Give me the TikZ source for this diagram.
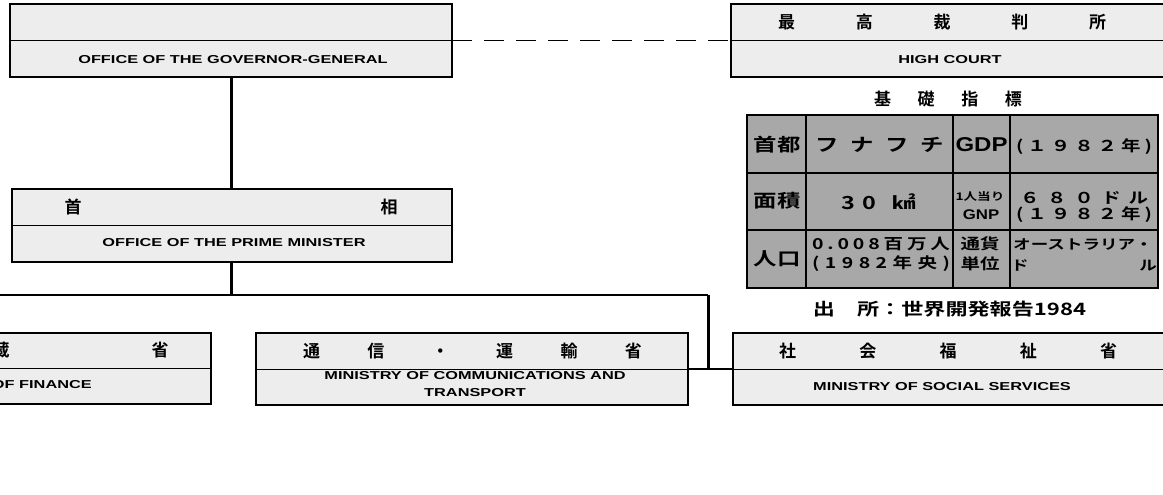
\documentclass[tikz,border=0pt]{standalone}
\usepackage{fontspec}
\setmainfont{Liberation Sans}
\newfontfamily\enf{Liberation Sans}[FakeStretch=1.42]
\newfontfamily\enw{Liberation Sans}[FakeStretch=1.2]
\newfontfamily\jpf{Noto Sans CJK JP}[BoldFont={Noto Sans CJK JP Bold}]
\newfontfamily\jpw{Noto Sans CJK JP}[FakeStretch=1.3,BoldFont={Noto Sans CJK JP Bold}]
\definecolor{boxfill}{gray}{0.93}
\definecolor{tabfill}{gray}{0.66}
\begin{document}
\begin{tikzpicture}[x=1pt,y=-1pt,
  orgbox/.style={draw, line width=2pt, fill=boxfill, inner sep=0pt, outer sep=0pt},
  divider/.style={line width=1pt},
  vline/.style={line width=3pt},
  hline/.style={line width=2pt},
  dashline/.style={line width=1.7pt, dash pattern=on 20pt off 12pt},
  tabline/.style={line width=2pt},
  en/.style={inner sep=0pt, font=\enf\bfseries\fontsize{11.5}{17}\selectfont},
  jt/.style={inner sep=0pt, font=\jpf\bfseries\fontsize{17}{20}\selectfont},
  jbig/.style={inner sep=0pt, font=\jpw\bfseries\fontsize{18}{20}\selectfont},
  jmid/.style={inner sep=0pt, font=\jpw\bfseries\fontsize{15}{18}\selectfont},
  jsmall/.style={inner sep=0pt, font=\jpw\bfseries\fontsize{13.5}{16}\selectfont},
  jtiny/.style={inner sep=0pt, font=\jpw\bfseries\fontsize{10.5}{12}\selectfont},
  lat/.style={inner sep=0pt, font=\enw\bfseries\fontsize{#1}{#1}\selectfont}
]
\useasboundingbox (0,0) rectangle (1163,495);
\clip (0,0) rectangle (1163,495);

% ---- boxes ----
\node[orgbox, minimum width=442pt, minimum height=73pt] (gg) at (231,40.5) {};
\node[orgbox, minimum width=444pt, minimum height=73pt] (hc) at (953,40.5) {};
\node[orgbox, minimum width=440pt, minimum height=73pt] (pm) at (232,225.5) {};
\node[orgbox, minimum width=432pt, minimum height=71pt] (fin) at (-5,368.5) {};
\node[orgbox, minimum width=432pt, minimum height=72pt] (com) at (472,369) {};
\node[orgbox, minimum width=442pt, minimum height=72pt] (soc) at (954,369) {};

\foreach \b in {gg,hc,pm,fin,com,soc}{\draw[divider] (\b.west) -- (\b.east);}

% ---- connectors ----
\coordinate (j1) at (231,295);
\coordinate (jl) at (-10,295);
\coordinate (jr) at (708,295);
\draw[dashline] (gg.east) -- (hc.west);
\draw[vline] (gg.south) -- (gg.south |- pm.north);
\draw[vline] (gg.south |- pm.south) -- (j1);
\draw[hline] (jl) -- (jr);
\draw[vline] (jr) -- (jr |- com.east);
\draw[hline] (com.east) -- (soc.west);

% ---- box texts ----
\node[en] (ggl) at (233,60) {OFFICE OF THE GOVERNOR-GENERAL};
\node[jt] (hct) at (942,22) {\makebox[328pt][s]{最\hfill 高\hfill 裁\hfill 判\hfill 所}};
\node[en] (hcl) at (950,60) {HIGH COURT};
\node[jt] (pm1) at (73,207) {首};
\node[jt] (pm2) at (389,207) {相};
\node[en] (pml) at (234,243) {OFFICE OF THE PRIME MINISTER};
\node[jt] (fin1) at (-159,350) {大};
\node[jt] (fin2) at (1,350) {蔵};
\node[jt] (fin3) at (160,350) {省};
\node[en, anchor=east] (finl) at (92,385) {MINISTRY OF FINANCE};
\node[jt] (comt) at (472.5,351) {\makebox[339pt][s]{通\hfill 信\hfill ・\hfill 運\hfill 輸\hfill 省}};
\node[en, align=center] (coml) at (475,384.5) {MINISTRY OF COMMUNICATIONS AND\\TRANSPORT};
\node[jt] (soct) at (948,351) {\makebox[338pt][s]{社\hfill 会\hfill 福\hfill 祉\hfill 省}};
\node[en] (socl) at (942,387) {MINISTRY OF SOCIAL SERVICES};

% ---- indicator table ----
\node[jt] (tabt) at (948,99) {\makebox[148pt][s]{基\hfill 礎\hfill 指\hfill 標}};
\fill[tabfill] (747,115) rectangle (1158,288);
\draw[tabline] (747,115) rectangle (1158,288);
\foreach \xx in {806,953,1010}{\draw[tabline] (\xx,115) -- (\xx,288);}
\foreach \yy in {173,230}{\draw[tabline] (747,\yy) -- (1158,\yy);}

\node[jbig] (c11) at (777,145) {首都};
\node[jbig] (c12) at (879.5,145) {\makebox[128pt][s]{フ\hfill ナ\hfill フ\hfill チ}};
\node[lat=20] (c13) at (981.5,145) {GDP};
\node[jmid] (c14) at (1084,147) {\makebox[136pt][s]{(\hfill １\hfill ９\hfill ８\hfill ２\hfill 年\hfill )}};

\node[jbig] (c21) at (777,201) {面積};
\node[jbig] (c22) at (878.5,202) {\makebox[75pt][s]{3\hfill 0\hfill\hfill ㎢}};
\node[jtiny] (c23a) at (980,197) {1人当り};
\node[lat=14] (c23b) at (981,215) {GNP};
\node[jmid] (c24a) at (1084,198) {\makebox[128pt][s]{６\hfill ８\hfill ０\hfill ド\hfill ル}};
\node[jmid] (c24b) at (1084,215) {\makebox[136pt][s]{(\hfill １\hfill ９\hfill ８\hfill ２\hfill 年\hfill )}};

\node[jbig] (c31) at (777,259) {人口};
\node[jmid] (c32a) at (881,243.5) {\makebox[138pt][s]{0\hfill .\hfill 0\hfill 0\hfill 8\hfill 百\hfill 万\hfill 人}};
\node[jmid] (c32b) at (881,264) {\makebox[138pt][s]{(\hfill 1\hfill 9\hfill 8\hfill 2\hfill 年\hfill 央\hfill )}};
\node[jmid] (c33a) at (980,244) {通貨};
\node[jmid] (c33b) at (980,264) {単位};
\node[jsmall] (c34a) at (1083,244) {オーストラリア・};
\node[jsmall] (c34b) at (1084,265) {\makebox[146pt][s]{ド\hfill ル}};

\node[jt, font=\jpw\bfseries\fontsize{17}{20}\selectfont] (src) at (949.5,309) {出　所：世界開発報告1984};
\end{tikzpicture}
\end{document}
